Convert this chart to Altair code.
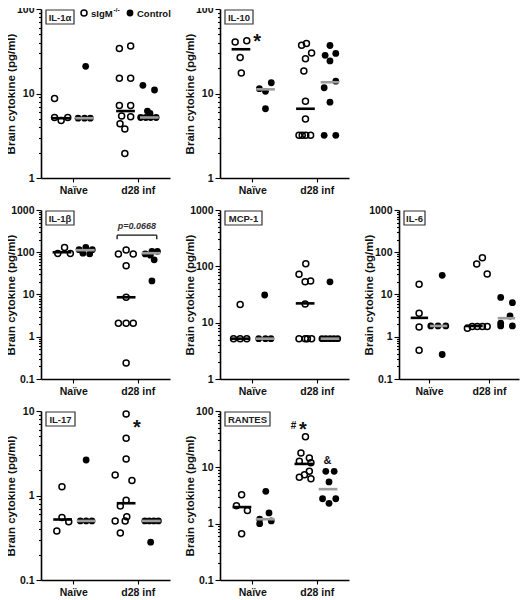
import altair as alt
import pandas as pd

FONT = "Liberation Sans"
CATEGORIES = ["Naïve", "d28 inf"]
CAT_POS = [1, 3]
Y_TITLE = "Brain cytokine (pg/ml)"
LEGEND_TEXT = ["sIgM", "-/-", "Control"]
MED_HALF = 0.29
OPEN_SIZE = 36
FILL_SIZE = 46

# group order: 0 sIgM-/- naive, 1 control naive, 2 sIgM-/- d28, 3 control d28
# ---------------- IL-1α
IL1A_Y = [[8.7, 5.2, 4.8, 5.2],
          [21, 5.1, 5.1, 5.1],
          [34, 36.5, 15.2, 15.2, 7.2, 7.2, 5.4, 5.3, 4.4, 3.8, 1.95],
          [12.5, 11, 6.2, 5.8, 5.2, 5.2, 5.2, 5.2]]
IL1A_X = [[0.42, 0.42, 0.625, 0.83],
          [1.385, 1.15, 1.35, 1.53],
          [2.43, 2.78, 2.43, 2.78, 2.43, 2.78, 2.5, 2.78, 2.45, 2.6, 2.6],
          [3.16, 3.52, 3.3, 3.38, 3.09, 3.25, 3.4, 3.57]]
IL1A_MED = [5.1, 5.1, 6.2, 5.2]
IL1A_MX = [0.63, 1.35, 2.62, 3.36]

# ---------------- IL-10
IL10_Y = [[40.8, 42, 26.6, 17.5],
          [11.4, 13.4, 10.6, 6.6],
          [37.3, 39, 30.2, 25.8, 18.4, 8.1, 5.0, 3.2, 3.2, 3.2, 3.2],
          [37, 28.3, 29.8, 24.3, 14, 11.7, 7.9, 3.2, 3.2]]
IL10_X = [[0.47, 0.83, 0.625, 0.66],
          [1.22, 1.59, 1.41, 1.41],
          [2.53, 2.68, 2.84, 2.65, 2.6, 2.65, 2.65, 2.45, 2.55, 2.66, 2.81],
          [3.41, 3.26, 3.59, 3.41, 3.59, 3.23, 3.41, 3.23, 3.59]]
IL10_MED = [33.4, 11.2, 6.6, 13.6]
IL10_MX = [0.65, 1.41, 2.65, 3.41]

# ---------------- IL-1β
IL1B_Y = [[94, 130, 94],
          [115, 130, 115, 95, 92],
          [91, 113, 91, 48, 8.6, 2.1, 2.1, 2.1, 0.24],
          [91, 105, 105, 85, 66, 21]]
IL1B_X = [[0.52, 0.73, 0.91],
          [1.18, 1.39, 1.59, 1.3, 1.51],
          [2.4, 2.64, 2.86, 2.64, 2.64, 2.4, 2.64, 2.86, 2.64],
          [3.23, 3.44, 3.61, 3.39, 3.51, 3.44]]
IL1B_MED = [100, 112, 8.6, 95]
IL1B_MX = [0.65, 1.375, 2.64, 3.41]
IL1B_BRACKET = [2.36, 3.59, 254, 204]
IL1B_P = "p=0.0668"

# ---------------- MCP-1
MCP1_Y = [[21, 5.2, 5.2, 5.2],
          [31, 5.2, 5.2, 5.2],
          [111, 72, 53, 55, 21.5, 5.2, 5.2, 5.2, 5.2],
          [53, 5.2, 5.2, 5.2, 5.2, 5.2]]
MCP1_X = [[0.625, 0.42, 0.625, 0.83],
          [1.385, 1.2, 1.41, 1.58],
          [2.66, 2.45, 2.64, 2.81, 2.64, 2.45, 2.71, 2.84, 2.64],
          [3.41, 3.16, 3.28, 3.41, 3.53, 3.65]]
MCP1_MED = [5.2, 5.2, 22, 5.2]
MCP1_MX = [0.625, 1.39, 2.64, 3.41]

# ---------------- IL-6
IL6_Y = [[17.5, 3.6, 1.7, 0.48],
         [28.5, 1.8, 1.8, 1.8, 0.38],
         [53, 74, 30.5, 1.6, 1.75, 1.75, 1.75, 1.75],
         [8.5, 6.4, 3.1, 2.1, 1.8, 1.8]]
IL6_X = [[0.67, 0.67, 0.67, 0.67],
         [1.44, 1.06, 1.3, 1.56, 1.44],
         [2.59, 2.78, 2.94, 2.28, 2.44, 2.61, 2.78, 2.94],
         [3.39, 3.78, 3.7, 3.39, 3.39, 3.78]]
IL6_MED = [2.8, 1.8, 1.8, 2.75]
IL6_MX = [0.68, 1.32, 2.5, 3.58]

# ---------------- IL-17
IL17_Y = [[1.27, 0.55, 0.49, 0.38],
          [2.63, 0.5, 0.5, 0.5],
          [9.2, 4.75, 2.7, 1.75, 1.5, 0.88, 0.75, 0.5, 0.5, 0.56, 0.36],
          [0.5, 0.5, 0.5, 0.5, 0.28]]
IL17_X = [[0.65, 0.65, 0.86, 0.49],
          [1.4, 1.22, 1.4, 1.58],
          [2.64, 2.64, 2.64, 2.3, 2.82, 2.64, 2.46, 2.3, 2.61, 2.66, 2.46],
          [3.22, 3.36, 3.5, 3.64, 3.4]]
IL17_MED = [0.52, 0.5, 0.81, 0.5]
IL17_MX = [0.67, 1.4, 2.64, 3.42]

# ---------------- RANTES
RANTES_Y = [[3.27, 2.08, 1.72, 0.66],
            [3.75, 1.55, 1.2, 1.0, 1.12],
            [34.8, 18, 14.7, 12.8, 12, 8.5, 7.4, 6.7, 6.3],
            [8.5, 8.5, 5.5, 2.77, 2.3, 2.77]]
RANTES_X = [[0.67, 0.51, 0.85, 0.67],
            [1.42, 1.52, 1.23, 1.23, 1.59],
            [2.65, 2.51, 2.77, 2.46, 2.82, 2.77, 2.62, 2.46, 2.82],
            [3.28, 3.54, 3.38, 3.18, 3.38, 3.59]]
RANTES_MED = [1.97, 1.2, 11.5, 4.1]
RANTES_MX = [0.68, 1.4, 2.6, 3.35]

# annotations: text, x, y, font size, dy
IL10_NOTES = [("*", 1.15, 46.8, 20, 11)]
IL17_NOTES = [("*", 2.97, 7.15, 20, 11)]
RANTES_NOTES = [("#", 2.28, 56.3, 10, 4), ("*", 2.57, 55.4, 20, 11), ("&", 3.33, 13.7, 11, 4)]

IS_DEC = "abs(log(datum.value)/LN10 - round(log(datum.value)/LN10)) < 0.001"


def tick_values(lo, hi):
    vals = []
    d = lo
    while d < hi * 1.001:
        for k in range(1, 10):
            v = round(d * k, 6)
            if v <= hi * 1.001:
                vals.append(v)
        d *= 10
    return vals


def panel(name, box_w, ydom, width, ys, xs, med, medx, notes=(), legend=False, bracket=None):
    rows = []
    for g in range(4):
        for y, x in zip(ys[g], xs[g]):
            rows.append({"x": x, "y": y, "ko": g % 2 == 0})
    df = pd.DataFrame(rows)
    xscale = alt.Scale(domain=[0, 4], nice=False, zero=False)
    yscale = alt.Scale(type="log", domain=ydom, nice=False)
    lab = f"datum.value == {CAT_POS[0]} ? '{CATEGORIES[0]}' : '{CATEGORIES[1]}'"
    xaxis = alt.Axis(values=CAT_POS, labelExpr=lab, title=None, tickSize=4, labelPadding=3,
                     grid=False, labelFlush=False, labelAngle=0, labelOverlap=False)
    yaxis = alt.Axis(values=tick_values(*ydom),
                     labelExpr=f"({IS_DEC}) ? format(datum.value, '~g') : ''",
                     tickSize={"condition": {"test": IS_DEC, "value": 5}, "value": 2.5},
                     title=Y_TITLE, labelOverlap=False, labelFlush=False,
                     minExtent=24, maxExtent=24, titlePadding=1, labelPadding=2, grid=False)
    X = alt.X("x:Q", scale=xscale, axis=xaxis)
    Y = alt.Y("y:Q", scale=yscale, axis=yaxis)
    base = alt.Chart(df)
    ko = base.transform_filter("datum.ko").mark_point(
        shape="circle", filled=False, size=OPEN_SIZE, strokeWidth=1.5, color="black", opacity=1
    ).encode(x=X, y=Y)
    wt = base.transform_filter("!datum.ko").mark_circle(
        size=FILL_SIZE, color="black", opacity=1
    ).encode(x=X, y=Y)
    mdf = pd.DataFrame({"x": [m - MED_HALF for m in medx], "x2": [m + MED_HALF for m in medx],
                        "y": med, "ko": [True, False, True, False]})
    mbase = alt.Chart(mdf)
    mko = mbase.transform_filter("datum.ko").mark_rule(color="black", strokeWidth=2.6).encode(
        x=X, x2=alt.X2("x2"), y=Y)
    mwt = mbase.transform_filter("!datum.ko").mark_rule(color="#9c9c9c", strokeWidth=2.6).encode(
        x=X, x2=alt.X2("x2"), y=Y)
    layers = [ko, wt, mko, mwt]

    ldf = pd.DataFrame({"t": [name]})
    box = alt.Chart(ldf).mark_rect(fill="white", stroke="#333", strokeWidth=1.2).encode(
        x=alt.value(5), x2=alt.value(5 + box_w), y=alt.value(1), y2=alt.value(15))
    txt = alt.Chart(ldf).mark_text(font=FONT, fontWeight="bold", fontSize=9.5, color="#222",
                                   align="center", baseline="middle").encode(
        x=alt.value(5 + box_w / 2), y=alt.value(8.5), text="t:N")
    layers += [box, txt]

    for (t, nx, ny, fs, dy) in notes:
        ndf = pd.DataFrame({"x": [nx], "y": [ny], "t": [t]})
        layers.append(alt.Chart(ndf).mark_text(font=FONT, fontWeight="bold", fontSize=fs, color="#111",
                                               align="center", baseline="alphabetic", dy=dy).encode(
            x=X, y=Y, text="t:N"))

    if bracket is not None:
        bx1, bx2, by, byt = bracket
        hdf = pd.DataFrame({"x": [bx1], "x2": [bx2], "y": [by]})
        vdf = pd.DataFrame({"x": [bx1, bx2], "y": [by, by], "y2": [byt, byt]})
        layers.append(alt.Chart(hdf).mark_rule(color="#111", strokeWidth=1.3).encode(
            x=X, x2=alt.X2("x2"), y=Y))
        layers.append(alt.Chart(vdf).mark_rule(color="#111", strokeWidth=1.3).encode(
            x=X, y=Y, y2=alt.Y2("y2")))
        pdf = pd.DataFrame({"x": [(bx1 + bx2) / 2], "y": [by * 1.62], "t": [IL1B_P]})
        layers.append(alt.Chart(pdf).mark_text(font=FONT, fontStyle="italic", fontWeight="bold",
                                               fontSize=9, color="#333", align="center",
                                               baseline="middle").encode(x=X, y=Y, text="t:N"))

    if legend:
        one = pd.DataFrame({"a": [0]})
        lg = alt.Chart(one)
        layers += [
            lg.mark_point(shape="circle", filled=False, size=OPEN_SIZE, strokeWidth=1.5, color="black",
                          opacity=1).encode(x=alt.value(43), y=alt.value(4)),
            lg.mark_text(font=FONT, fontWeight="bold", fontSize=9.5, color="#111", align="left",
                         baseline="middle", text=LEGEND_TEXT[0]).encode(x=alt.value(50), y=alt.value(4.5)),
            lg.mark_text(font=FONT, fontWeight="bold", fontSize=6.5, color="#111", align="left",
                         baseline="middle", text=LEGEND_TEXT[1]).encode(x=alt.value(72.5), y=alt.value(1)),
            lg.mark_circle(size=FILL_SIZE, color="black", opacity=1).encode(x=alt.value(89), y=alt.value(4)),
            lg.mark_text(font=FONT, fontWeight="bold", fontSize=9.5, color="#111", align="left",
                         baseline="middle", text=LEGEND_TEXT[2]).encode(x=alt.value(96), y=alt.value(4.5)),
        ]

    return alt.layer(*layers).properties(width=width, height=169)


W = 129
p1 = panel("IL-1α", 28, [1, 100], W, IL1A_Y, IL1A_X, IL1A_MED, IL1A_MX, legend=True)
p2 = panel("IL-10", 28, [1, 100], W, IL10_Y, IL10_X, IL10_MED, IL10_MX, notes=IL10_NOTES)
p3 = panel("IL-1β", 28, [0.1, 1000], W, IL1B_Y, IL1B_X, IL1B_MED, IL1B_MX, bracket=IL1B_BRACKET)
p4 = panel("MCP-1", 37, [1, 1000], W, MCP1_Y, MCP1_X, MCP1_MED, MCP1_MX)
p5 = panel("IL-6", 21, [0.1, 1000], 120, IL6_Y, IL6_X, IL6_MED, IL6_MX)
p6 = panel("IL-17", 29, [0.1, 10], W, IL17_Y, IL17_X, IL17_MED, IL17_MX, notes=IL17_NOTES)
p7 = panel("RANTES", 45, [0.1, 100], W, RANTES_Y, RANTES_X, RANTES_MED, RANTES_MX, notes=RANTES_NOTES)

row1 = alt.hconcat(p1, p2, spacing=50, bounds="flush")
row2 = alt.hconcat(p3, p4, p5, spacing=50, bounds="flush")
row3 = alt.hconcat(p6, p7, spacing=50, bounds="flush")

chart = alt.vconcat(row1, row2, row3, spacing=9).properties(
    padding={"left": -3, "top": -4, "right": 2, "bottom": 2}
).configure_view(stroke=None).configure_axis(
    domainColor="black", domainWidth=1.6, tickColor="black", tickWidth=1.1,
    labelFont=FONT, labelFontWeight="bold", labelFontSize=10.5, labelColor="#111",
    titleFont=FONT, titleFontWeight="bold", titleFontSize=11.5, titleColor="#111"
)

chart.save("out.html", embed_options={"renderer": "svg", "actions": False})
